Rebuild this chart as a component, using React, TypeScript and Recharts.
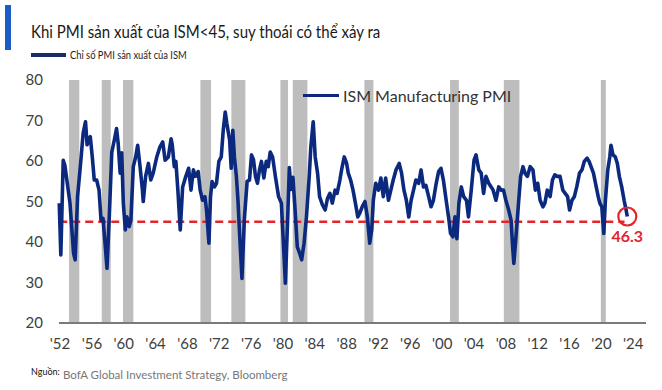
import { LineChart, Line, XAxis, YAxis, ReferenceArea, ReferenceLine, ReferenceDot } from "recharts"

// ISM manufacturing PMI (decimal years)
const years = [
    1951.9, 1952.1, 1952.4, 1952.6, 1953.25, 1953.7, 1953.9, 1954.2, 1954.6, 1954.9,
    1955.2, 1955.4, 1955.55, 1955.8, 1956.05, 1956.3, 1956.6, 1956.9, 1957.15, 1957.4,
    1957.65, 1957.9, 1958.2, 1958.5, 1958.8, 1959.1, 1959.3, 1959.55, 1959.75, 1959.95,
    1960.2, 1960.4, 1960.7, 1960.9, 1961.2, 1961.5, 1961.75, 1962.05, 1962.35, 1962.45,
    1962.75, 1963.1, 1963.4, 1963.7, 1964.15, 1964.55, 1964.9, 1965.2, 1965.6, 1965.95,
    1966.1, 1966.35, 1966.55, 1966.8, 1967.1, 1967.4, 1967.8, 1968.15, 1968.45, 1968.75,
    1969.0, 1969.35, 1969.6, 1969.9, 1970.2, 1970.4, 1970.7, 1970.9, 1971.1, 1971.4,
    1971.65, 1971.95, 1972.25, 1972.5, 1972.75, 1972.95, 1973.3, 1973.5, 1973.7, 1973.9,
    1974.15, 1974.35, 1974.55, 1974.85, 1975.15, 1975.5, 1975.8, 1976.05, 1976.3, 1976.55,
    1976.8, 1977.05, 1977.3, 1977.6, 1977.9, 1978.15, 1978.4, 1978.7, 1979.05, 1979.45,
    1979.8, 1980.1, 1980.3, 1980.6, 1980.8, 1981.0, 1981.25, 1981.5, 1981.8, 1982.1,
    1982.35, 1982.65, 1982.95, 1983.3, 1983.5, 1983.8, 1984.05, 1984.35, 1984.6, 1984.95,
    1985.3, 1985.6, 1985.9, 1986.2, 1986.55, 1986.8, 1987.15, 1987.4, 1987.7, 1988.0,
    1988.2, 1988.5, 1988.8, 1989.1, 1989.4, 1989.65, 1989.95, 1990.3, 1990.6, 1990.9,
    1991.15, 1991.35, 1991.65, 1992.0, 1992.3, 1992.6, 1992.9, 1993.25, 1993.55, 1993.85,
    1994.2, 1994.6, 1994.9, 1995.2, 1995.5, 1995.8, 1996.1, 1996.4, 1996.7, 1997.05,
    1997.35, 1997.65, 1997.95, 1998.3, 1998.6, 1998.9, 1999.25, 1999.55, 1999.85, 2000.15,
    2000.5, 2000.8, 2001.05, 2001.35, 2001.6, 2001.85, 2002.1, 2002.4, 2002.7, 2003.05,
    2003.3, 2003.65, 2004.0, 2004.25, 2004.6, 2004.9, 2005.2, 2005.5, 2005.85, 2006.15,
    2006.4, 2006.75, 2007.1, 2007.4, 2007.7, 2008.0, 2008.35, 2008.65, 2008.85, 2009.0,
    2009.3, 2009.55, 2009.85, 2010.15, 2010.4, 2010.7, 2011.05, 2011.4, 2011.7, 2012.0,
    2012.3, 2012.65, 2012.9, 2013.2, 2013.55, 2013.85, 2014.15, 2014.45, 2014.8, 2015.15,
    2015.45, 2015.75, 2016.0, 2016.3, 2016.6, 2016.9, 2017.25, 2017.55, 2017.85, 2018.2,
    2018.45, 2018.7, 2019.0, 2019.35, 2019.6, 2019.8, 2020.05, 2020.3, 2020.5, 2020.8,
    2021.05, 2021.2, 2021.45, 2021.75, 2022.0, 2022.25, 2022.55, 2022.85, 2023.1, 2023.25,
]

const pmi = [
    49.6, 36.8, 60.2, 59, 49.6, 37.2, 35.6, 51.2, 59.8, 66.8,
    69.7, 64, 65.2, 66, 61, 55.3, 55.3, 52.8, 45.4, 45.8,
    39.7, 33.5, 47, 62.2, 65, 68, 64.4, 57, 62, 49.6,
    43, 46.2, 43.8, 45.4, 58.6, 61, 63.9, 58.6, 52.8, 50,
    56.2, 59.4, 55.3, 57, 61, 63.5, 64.7, 60.2, 61, 65.5,
    64, 58.6, 59.9, 52.8, 43, 53.6, 56.2, 58.2, 52.8, 57.8,
    56.2, 57.4, 52.8, 50.3, 51.2, 47.9, 39.7, 51.2, 54.9, 53.6,
    54.5, 59.9, 61, 67.6, 72.1, 69.3, 65.2, 58.2, 67.6, 61,
    56.2, 50.3, 42.1, 31, 45.6, 55, 55.3, 61.5, 60.3, 56.2,
    54.5, 57.8, 59.9, 55.8, 59.9, 58.6, 62.2, 61, 56.2, 51.2,
    49.6, 38, 29.8, 46.2, 58.4, 53, 56, 48.7, 38.8, 37.2,
    35.6, 39.7, 46.2, 56.2, 63.5, 69.7, 61, 57, 51.2, 49.2,
    47.9, 50.8, 52, 49.6, 52.8, 52, 55.3, 58.2, 61, 59.4,
    57, 55.3, 52.8, 49.6, 46.2, 47.1, 48.7, 50, 46.2, 39.7,
    43, 50.3, 54.5, 52.8, 55.8, 51.2, 55.8, 50.3, 52.8, 55.3,
    57.8, 59.4, 57, 52.8, 50.3, 46.2, 50.3, 52.8, 55.3, 54.5,
    57.8, 53.6, 54, 51.2, 48.7, 50.3, 54.5, 57.4, 58.2, 55.3,
    50.3, 46.2, 42.1, 41.3, 46.2, 40.8, 49.6, 53.6, 51.2, 50.3,
    46.2, 52.8, 60.2, 61.5, 57.8, 57, 52, 56.2, 54.5, 53.6,
    52.8, 50.3, 53.6, 52.8, 52.8, 50.3, 47.9, 45.4, 38.8, 34.7,
    42.1, 48.7, 56.2, 58.6, 57, 56.2, 58.6, 57.8, 52.8, 54.5,
    50.3, 48.7, 49.6, 52.8, 51.2, 55.3, 56.6, 56.2, 56.2, 52.8,
    52, 51.2, 47.9, 50.3, 51.2, 53.6, 57, 57.8, 59.9, 60.7,
    59.9, 58.6, 57, 53.6, 51.2, 49.6, 48.7, 42.1, 50.3, 57.8,
    61, 63.9, 61.5, 61, 59.4, 56.2, 53.6, 50.3, 47.9, 46.3,
]

// recession bands (start, end)
const recessions = [
    [1953.13, 1954.42],
    [1957.24, 1958.37],
    [1959.91, 1961.21],
    [1969.63, 1970.97],
    [1973.52, 1975.28],
    [1979.68, 1980.64],
    [1981.23, 1983.07],
    [1990.23, 1991.36],
    [2000.99, 2002.09],
    [2007.74, 2009.7],
    [2019.93, 2020.55],
]

const xTicks = [1952, 1956, 1960, 1964, 1968, 1972, 1976, 1980, 1984, 1988, 1992, 1996, 2000, 2004, 2008, 2012, 2016, 2020, 2024]
const yTicks = [20, 30, 40, 50, 60, 70, 80]
const threshold = 45
const lastYear = 2023.25
const lastValue = 46.3

const data = years.map((year, i) => ({ year, pmi: pmi[i] }))

const navy = "#0b2a7f"
const red = "#e3262b"
const font = "Lato, 'Open Sans', sans-serif"

export default function App() {
    return (
        <div style={{ position: "absolute", left: 0, top: 0, width: 662, height: 390, background: "#fff", overflow: "hidden" }}>
            <div style={{ position: "absolute", left: 5, top: 5, width: 6, height: 45, background: "#1d5cc7" }} />
            <div
                style={{
                    position: "absolute",
                    left: 31,
                    top: 20,
                    fontFamily: font,
                    fontSize: 18,
                    color: "#1a1a1a",
                    whiteSpace: "nowrap",
                    transformOrigin: "left top",
                    transform: "scaleX(0.835)",
                }}
            >
                Khi PMI sản xuất của ISM&lt;45, suy thoái có thể xảy ra
            </div>
            <div style={{ position: "absolute", left: 31, top: 53, width: 35, height: 4, background: "#1c2c63" }} />
            <div
                style={{
                    position: "absolute",
                    left: 70,
                    top: 48,
                    fontFamily: font,
                    fontSize: 11,
                    color: "#222",
                    whiteSpace: "nowrap",
                    transformOrigin: "left top",
                    transform: "scaleX(0.85)",
                }}
            >
                Chỉ số PMI sản xuất của ISM
            </div>

            <div style={{ position: "absolute", left: 0, top: 0 }}>
                <LineChart width={662} height={390} data={data} margin={{ top: 80, right: 16, bottom: 37, left: 0 }}>
                    {recessions.map(([a, b]) => (
                        <ReferenceArea key={a} x1={a} x2={b} y1={20} y2={80} fill="#bdbdbd" fillOpacity={1} stroke="none" />
                    ))}
                    <XAxis
                        dataKey="year"
                        type="number"
                        domain={[1951.87, 2025.6]}
                        ticks={xTicks}
                        tickFormatter={(v) => `'${String(v).slice(2)}`}
                        axisLine={{ stroke: "#7a7a7a", strokeWidth: 2 }}
                        tickLine={false}
                        tickMargin={9}
                        tick={{ fill: "#404040", fontSize: 15, fontFamily: font }}
                        interval={0}
                    />
                    <YAxis
                        domain={[20, 80]}
                        ticks={yTicks}
                        width={59}
                        axisLine={false}
                        tickLine={false}
                        tickMargin={10}
                        tick={{ fill: "#404040", fontSize: 15, fontFamily: font }}
                        interval={0}
                    />
                    <ReferenceLine
                        segment={[
                            { x: 1951.9, y: threshold },
                            { x: 2022.9, y: threshold },
                        ]}
                        stroke={red}
                        strokeWidth={2.5}
                        strokeDasharray="8 5"
                    />
                    <Line
                        type="linear"
                        dataKey="pmi"
                        name="ISM Manufacturing PMI"
                        stroke={navy}
                        strokeWidth={3.6}
                        strokeLinejoin="round"
                        dot={false}
                        isAnimationActive={false}
                    />
                    <ReferenceDot
                        x={lastYear}
                        y={lastValue}
                        r={9}
                        fill="none"
                        stroke={red}
                        strokeWidth={2.2}
                        label={{ value: String(lastValue), position: "bottom", offset: 5, fill: red, fontSize: 16, fontWeight: 700, fontFamily: font }}
                    />
                </LineChart>
            </div>

            <div style={{ position: "absolute", left: 303, top: 86, display: "flex", alignItems: "center", fontFamily: font, fontSize: 16, color: "#333", whiteSpace: "nowrap" }}>
                <span style={{ display: "inline-block", width: 36, height: 3, background: navy, marginRight: 4 }} />
                ISM Manufacturing PMI
            </div>

            <div style={{ position: "absolute", left: 31, top: 366, fontFamily: font, fontSize: 9, color: "#111", whiteSpace: "nowrap" }}>
                Nguồn:
            </div>
            <div style={{ position: "absolute", left: 63, top: 368, fontFamily: font, fontSize: 11.5, color: "#777", whiteSpace: "nowrap" }}>
                BofA Global Investment Strategy, Bloomberg
            </div>
        </div>
    )
}
